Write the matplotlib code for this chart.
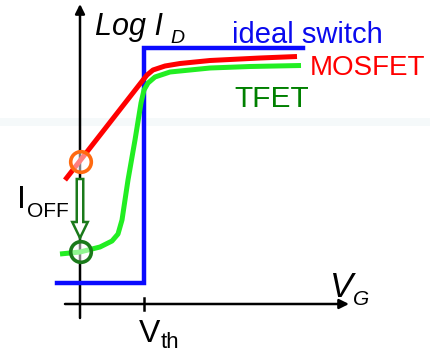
import matplotlib
matplotlib.use("Agg")
import matplotlib.pyplot as plt
from matplotlib.patches import Circle, FancyArrow

plt.rcParams['font.family'] = ['Liberation Sans', 'DejaVu Sans']

# Gate voltage (horizontal offset from the origin) and log drain current (height above the V_G axis)
vth = 64
ideal_vg = [-23, vth, vth, 223]
ideal_logid = [21, 21, 256, 256]

mosfet_vg = [-15, 63, 67, 73, 85, 100, 130, 150, 180, 217]
mosfet_logid = [124, 224, 229, 234, 238, 240.5, 243.5, 244.5, 246, 247.5]

tfet_vg = [-20, 0, 20, 32, 38, 42, 48, 55, 61, 64, 68, 75, 90, 130, 170, 221]
tfet_logid = [50, 52, 57, 63, 70, 84, 124, 164, 201, 214, 221, 227, 232, 236, 237.5, 238.5]

ioff_mosfet = (1, 142)
ioff_tfet = (1, 52)

fig = plt.figure(figsize=(4.3, 3.55), dpi=100)
ax = fig.add_axes([0, 0, 1, 1])
ax.set_xlim(-80, 350)
ax.set_ylim(-51, 304)
ax.axis('off')

# faint horizontal band across the background
ax.axhspan(178, 186, facecolor='#f5f9fa', edgecolor='none', zorder=0)

# axes with arrowheads
ax.annotate('', xy=(0, 300), xytext=(0, -14),
            arrowprops=dict(arrowstyle='-|>', lw=1.8, color='black',
                            mutation_scale=14, shrinkA=0, shrinkB=0), zorder=2)
ax.annotate('', xy=(269, 0), xytext=(-15, 0),
            arrowprops=dict(arrowstyle='-|>', lw=1.8, color='black',
                            mutation_scale=14, shrinkA=0, shrinkB=0), zorder=2)
ax.plot([vth, vth], [-6, 6], color='black', lw=1.8, zorder=2)

# transfer characteristics
ax.plot(ideal_vg, ideal_logid, color='#0a0aff', lw=3.2, solid_joinstyle='miter', zorder=3)
ax.plot(tfet_vg, tfet_logid, color='#22ee22', lw=3.6, solid_capstyle='butt', zorder=4)
ax.plot(mosfet_vg, mosfet_logid, color='#ff0000', lw=3.6, solid_capstyle='butt', zorder=5)

# off-current markers and the arrow between them
for (cx, cy), col in [(ioff_mosfet, '#ff6a10'), (ioff_tfet, '#1a7a1a')]:
    ax.add_patch(Circle((cx, cy), 10.3, facecolor=(1, 1, 1, 0.5), edgecolor=col,
                        lw=2.6, zorder=6))
ax.add_patch(FancyArrow(0, 125, 0, -59, width=6.5, head_width=15.5, head_length=16,
                        length_includes_head=True, facecolor='white',
                        edgecolor='#1a7a1a', lw=1.8, zorder=6))

# labels
ax.text(15, 269, 'Log I', fontsize=22, style='italic', ha='left', va='baseline')
ax.text(90, 261, 'D', fontsize=14, style='italic', ha='left', va='baseline')
ax.text(152, 261, 'ideal switch', fontsize=21, color='#0a0aee', ha='left', va='baseline')
ax.text(230, 229, 'MOSFET', fontsize=20, color='#ff0000', ha='left', va='baseline')
ax.text(154, 197, 'TFET', fontsize=21.5, color='#008000', ha='left', va='baseline')
ax.text(-63, 96, 'I', fontsize=23, ha='left', va='baseline')
ax.text(-53, 87, 'OFF', fontsize=15, ha='left', va='baseline')
ax.text(59, -38, 'V', fontsize=23, ha='left', va='baseline')
ax.text(81, -44, 'th', fontsize=16, ha='left', va='baseline')
ax.text(250, 7, 'V', fontsize=25, style='italic', ha='left', va='baseline')
ax.text(273, -1, 'G', fontsize=15, style='italic', ha='left', va='baseline')

fig.savefig('out.png', dpi=100)
